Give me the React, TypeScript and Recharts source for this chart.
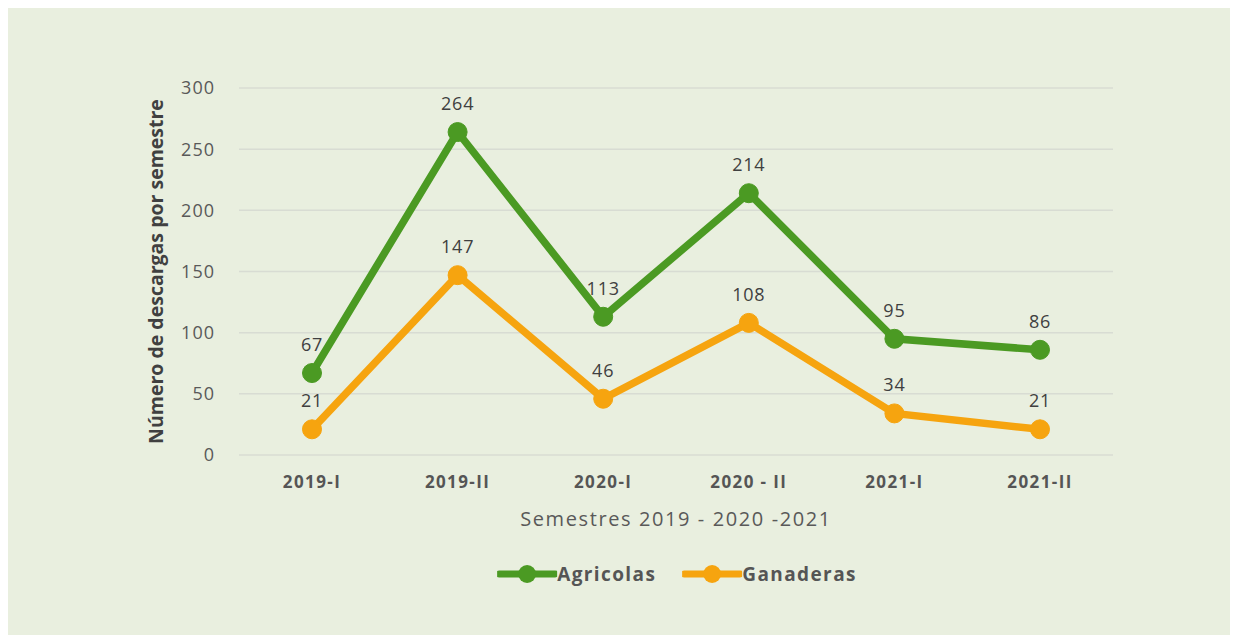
import React from "react";
import {
  LineChart,
  Line,
  XAxis,
  YAxis,
  CartesianGrid,
  LabelList,
} from "recharts";

const semesters = ["2019-I", "2019-II", "2020-I", "2020 - II", "2021-I", "2021-II"];
const agricolas = [67, 264, 113, 214, 95, 86];
const ganaderas = [21, 147, 46, 108, 34, 21];
const yTicks = [0, 50, 100, 150, 200, 250, 300];

const GREEN = "#4b9a23";
const ORANGE = "#f6a40f";
const FONT = "'Open Sans', sans-serif";

const data = semesters.map((s, i) => ({
  semestre: s,
  Agricolas: agricolas[i],
  Ganaderas: ganaderas[i],
}));

function LegendBox() {
  const items = [
    { name: "Agricolas", color: GREEN },
    { name: "Ganaderas", color: ORANGE },
  ];
  return (
    <div
      style={{
        position: "absolute",
        top: 553,
        left: 669,
        transform: "translateX(-50%)",
        display: "flex",
        gap: 26,
        fontFamily: FONT,
        whiteSpace: "nowrap",
      }}
    >
      {items.map((it) => (
        <div key={it.name} style={{ display: "flex", alignItems: "center" }}>
          <svg width={60} height={22}>
            <line x1={2} y1={11} x2={58} y2={11} stroke={it.color} strokeWidth={7} strokeLinecap="round" />
            <circle cx={30} cy={11} r={9} fill={it.color} />
          </svg>
          <span style={{ fontSize: 19, fontWeight: 700, color: "#555555", letterSpacing: 1.4 }}>{it.name}</span>
        </div>
      ))}
    </div>
  );
}

export default function App() {
  return (
    <div style={{ position: "relative", width: 1222, height: 627, background: "#e9efdf" }}>
      <LineChart
        width={1222}
        height={627}
        data={data}
        margin={{ top: 80, right: 117, left: 151, bottom: 0 }}
      >
        <CartesianGrid vertical={false} stroke="#d8dcd3" strokeWidth={1.5} />
        <XAxis
          dataKey="semestre"
          padding={{ left: 73, right: 73 }}
          axisLine={false}
          tickLine={false}
          tickMargin={15}
          height={180}
          interval={0}
          tick={{ fill: "#555555", fontSize: 17, fontWeight: 700, fontFamily: FONT, letterSpacing: 1.4 }}
          label={({ viewBox }: any) => (
            <text
              x={viewBox.x + viewBox.width / 2}
              y={viewBox.y + 71}
              textAnchor="middle"
              fill="#595959"
              fontSize={20}
              fontFamily={FONT}
              letterSpacing={1.6}
            >
              Semestres 2019 - 2020 -2021
            </text>
          )}
        />
        <YAxis
          width={80}
          domain={[0, 300]}
          ticks={yTicks}
          axisLine={false}
          tickLine={false}
          tickMargin={18}
          tick={{ fill: "#595959", fontSize: 18, fontFamily: FONT, letterSpacing: 1 }}
          label={({ viewBox }: any) => (
            <text
              transform={`translate(${viewBox.x - 4}, ${viewBox.y + viewBox.height / 2}) rotate(-90)`}
              textAnchor="middle"
              dominantBaseline="central"
              fill="#404040"
              fontSize={19.5}
              fontWeight={700}
              fontFamily={FONT}
            >
              Número de descargas por semestre
            </text>
          )}
        />
        <Line
          type="linear"
          dataKey="Agricolas"
          stroke={GREEN}
          strokeWidth={7.5}
          dot={{ r: 9.5, fill: GREEN, stroke: GREEN, strokeWidth: 1 }}
          isAnimationActive={false}
        >
          <LabelList dataKey="Agricolas" position="top" offset={22} fill="#404040" fontSize={18} fontFamily={FONT} letterSpacing={0.8} />
        </Line>
        <Line
          type="linear"
          dataKey="Ganaderas"
          stroke={ORANGE}
          strokeWidth={7.5}
          dot={{ r: 9.5, fill: ORANGE, stroke: ORANGE, strokeWidth: 1 }}
          isAnimationActive={false}
        >
          <LabelList dataKey="Ganaderas" position="top" offset={22} fill="#404040" fontSize={18} fontFamily={FONT} letterSpacing={0.8} />
        </Line>
      </LineChart>
      <LegendBox />
    </div>
  );
}
